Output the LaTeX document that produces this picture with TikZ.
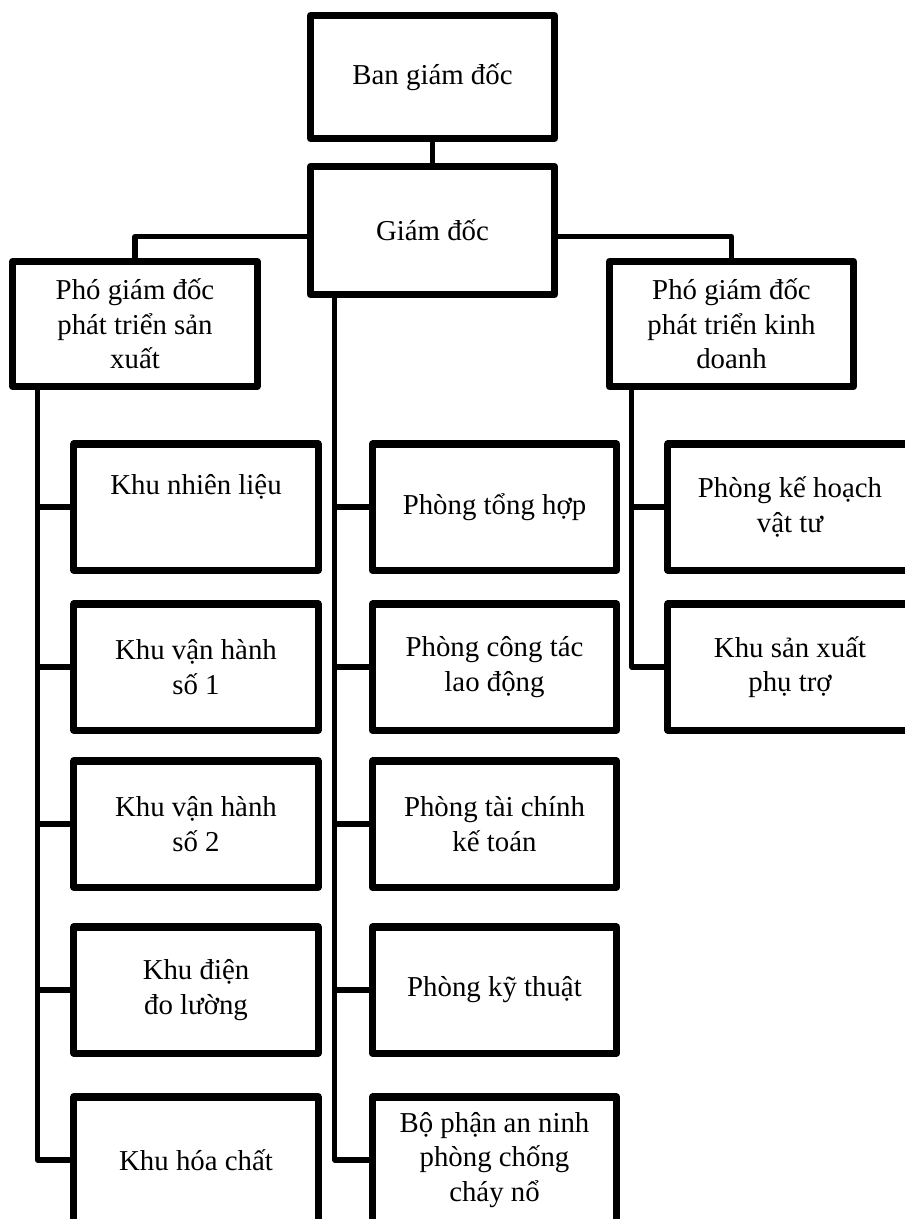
\documentclass[tikz,border=0pt]{standalone}
\usepackage{fontspec}
\setmainfont{Liberation Serif}
\usetikzlibrary{positioning}

\begin{document}
\begin{tikzpicture}[
        x=0.025cm,
        y=-0.025cm,
        box/.style={
            rectangle,
            draw,
            line width=5pt,
            line join=round,
            minimum width=6.1cm,
            minimum height=3.15cm,
            inner sep=2pt,
            align=center,
            font=\fontsize{20.5}{24.5}\selectfont
        },
        link/.style={
            line width=3.6pt,
            line join=round
        }
    ]

    % khung trang
    \fill[white] (0,0) rectangle (905,1219);
    \clip (0,0) rectangle (905,1219);

    % cap lanh dao
    \node[box, minimum height=3.075cm] (bgd) at (432.5,77) {Ban giám đốc};
    \node[box, minimum height=3.2cm] (gd) at (432.5,230.5) {Giám đốc};
    \node[box, minimum height=3.125cm] (pgdSX) at (135,324) {Phó giám đốc\\phát triển sản\\xuất};
    \node[box, minimum height=3.125cm] (pgdKD) at (731.5,324) {Phó giám đốc\\phát triển kinh\\doanh};

    % cot trai
    \node[box] (kNL) at (196,507) {Khu nhiên liệu\\ \strut};
    \node[box] (kVH1) at (196,667) {Khu vận hành\\số 1};
    \node[box] (kVH2) at (196,824) {Khu vận hành\\số 2};
    \node[box] (kDDL) at (196,990) {Khu điện\\đo lường};
    \node[box] (kHC) at (196,1160) {Khu hóa chất};

    % cot giua
    \node[box] (pTH) at (494.5,507) {Phòng tổng hợp};
    \node[box] (pCT) at (494.5,667) {Phòng công tác\\lao động};
    \node[box] (pTC) at (494.5,824) {Phòng tài chính\\kế toán};
    \node[box] (pKT) at (494.5,990) {Phòng kỹ thuật};
    \node[box] (bpAN) at (494.5,1160) {Bộ phận an ninh\\phòng chống\\cháy nổ};

    % cot phai
    \node[box] (pKH) at (790,507) {Phòng kế hoạch\\vật tư};
    \node[box] (kSX) at (790,667) {Khu sản xuất\\phụ trợ};

    % duong noi
    \draw[link] (bgd) -- (gd);
    \draw[link] ([yshift=-0.15cm]gd.west) -| (pgdSX.north);
    \draw[link] ([yshift=-0.15cm]gd.east) -| (pgdKD.north);

    \coordinate (tSX) at ([xshift=0.7cm]pgdSX.south west);
    \coordinate (tGD) at ([xshift=0.7cm]gd.south west);
    \coordinate (tKD) at ([xshift=0.65cm]pgdKD.south west);

    \draw[link] (tSX) |- (kHC.west);
    \foreach \n in {kNL, kVH1, kVH2, kDDL}
        \draw[link] (\n.west) -- (\n.west -| tSX);

    \draw[link] (tGD) |- (bpAN.west);
    \foreach \n in {pTH, pCT, pTC, pKT}
        \draw[link] (\n.west) -- (\n.west -| tGD);

    \draw[link] (tKD) |- (kSX.west);
    \draw[link] (pKH.west) -- (pKH.west -| tKD);

\end{tikzpicture}
\end{document}
